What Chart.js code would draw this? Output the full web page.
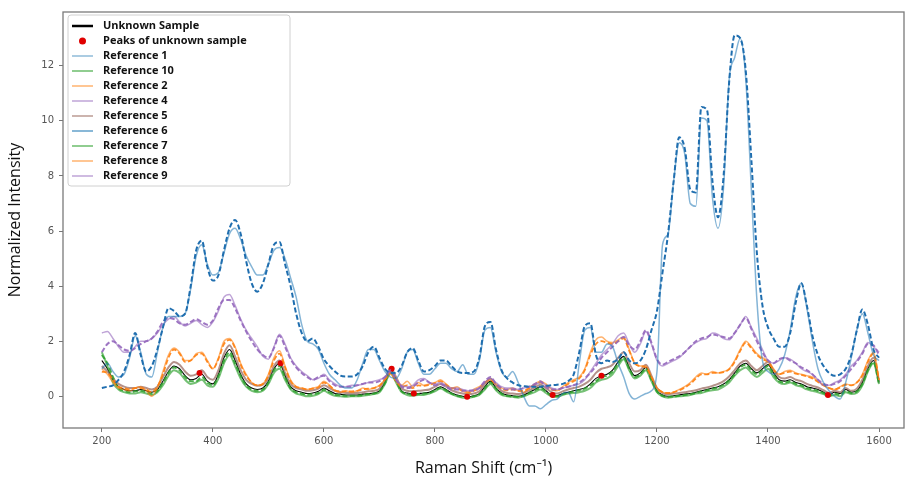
<!DOCTYPE html>
<html lang="en">
<head>
<meta charset="UTF-8">
<title>Raman spectra vs references</title>
<script src="https://cdn.jsdelivr.net/npm/chart.js"></script>
<style>
  html, body { margin: 0; padding: 0; background: #fff; }
  canvas { display: block; }
</style>
</head>
<body>
<canvas id="spectra" width="908" height="483"></canvas>
<script>
// Raman shift grid (cm-1)
const ramanShift = [
  200, 210, 220, 230, 240, 250, 260, 270, 280, 290,
  300, 310, 320, 330, 340, 350, 360, 370, 380, 390,
  400, 410, 420, 430, 440, 450, 460, 470, 480, 490,
  500, 510, 520, 530, 540, 550, 560, 570, 580, 590,
  600, 610, 620, 630, 640, 650, 660, 670, 680, 690,
  700, 710, 720, 730, 740, 750, 760, 770, 780, 790,
  800, 810, 820, 830, 840, 850, 860, 870, 880, 890,
  900, 910, 920, 930, 940, 950, 960, 970, 980, 990,
  1000, 1010, 1020, 1030, 1040, 1050, 1060, 1070, 1080, 1090,
  1100, 1110, 1120, 1130, 1140, 1150, 1160, 1170, 1180, 1190,
  1200, 1210, 1220, 1230, 1240, 1250, 1260, 1270, 1280, 1290,
  1300, 1310, 1320, 1330, 1340, 1350, 1360, 1370, 1380, 1390,
  1400, 1410, 1420, 1430, 1440, 1450, 1460, 1470, 1480, 1490,
  1500, 1510, 1520, 1530, 1540, 1550, 1560, 1570, 1580, 1590,
  1600
];

const unknownSample = [
  1.3, 1.0, 0.6, 0.35, 0.25, 0.2, 0.2, 0.25, 0.2, 0.15,
  0.25, 0.55, 0.9, 1.1, 1.0, 0.75, 0.6, 0.65, 0.8, 0.55,
  0.45, 0.8, 1.4, 1.7, 1.3, 0.8, 0.45, 0.3, 0.25, 0.3,
  0.55, 1.0, 1.2, 0.75, 0.35, 0.2, 0.15, 0.1, 0.12, 0.18,
  0.3, 0.2, 0.1, 0.08, 0.05, 0.05, 0.05, 0.08, 0.1, 0.12,
  0.2, 0.5, 0.95, 0.6, 0.2, 0.12, 0.08, 0.1, 0.12, 0.15,
  0.25, 0.35, 0.25, 0.12, 0.05, 0.0, -0.02, 0.02, 0.1, 0.35,
  0.55, 0.3, 0.12, 0.05, 0.02, 0.0, 0.05, 0.15, 0.25, 0.35,
  0.2, 0.05, 0.02, 0.1, 0.15, 0.2, 0.25, 0.3, 0.45, 0.65,
  0.75, 0.8, 0.95, 1.25, 1.45, 1.05, 0.75, 0.85, 1.05, 0.65,
  0.2, 0.05, 0.0, 0.02, 0.05, 0.08, 0.1, 0.15, 0.2, 0.25,
  0.3, 0.35, 0.45, 0.6, 0.85, 1.1, 1.2, 1.0, 0.85, 1.0,
  1.15, 0.85, 0.6, 0.55, 0.6, 0.5, 0.45, 0.35, 0.3, 0.25,
  0.15, 0.05, 0.15, 0.1, 0.25, 0.15, 0.2, 0.5, 1.0, 1.3,
  0.5
];

// detected peaks of the unknown sample
const peakShift = [376, 522, 722, 762, 858, 1012, 1100, 1508];
const peakIntensity = [0.85, 1.2, 1.0, 0.1, -0.02, 0.05, 0.75, 0.05];

const reference1 = [
  1.0, 1.2, 0.9, 0.7, 0.8, 1.4, 2.2, 1.6, 0.8, 0.7,
  1.6, 2.5, 2.9, 2.9, 2.9, 3.0, 3.9, 5.1, 5.5, 4.8,
  4.4, 4.5, 5.2, 5.9, 6.1, 5.7, 5.1, 4.7, 4.4, 4.4,
  4.8, 5.3, 5.4, 5.0, 4.3, 3.6, 2.6, 2.0, 1.9, 1.7,
  1.2, 0.8, 0.6, 0.4, 0.3, 0.3, 0.6, 1.2, 1.7, 1.7,
  1.3, 0.9, 0.7, 0.65, 1.0, 1.6, 1.7, 1.2, 0.8, 0.8,
  1.0, 1.2, 1.2, 1.0, 0.9, 1.15, 0.8, 0.8, 1.3, 2.4,
  2.5, 1.6, 0.9, 0.7, 0.9, 0.5, 0.0, -0.35, -0.35, -0.45,
  -0.3, -0.15, -0.1, 0.1, 0.15, -0.2, 1.2, 2.4, 2.5, 1.6,
  1.6, 1.9, 1.8, 1.2, 0.7, 0.1, -0.1, 0.0, 0.1, 0.2,
  0.9, 5.5, 5.9, 7.8, 9.2, 8.8, 7.0, 6.9, 10.1, 10.0,
  7.2, 6.1, 7.6, 11.5, 12.3, 13.0, 11.5, 7.5, 3.5, 1.3,
  0.9, 0.8, 1.0, 1.5, 2.4, 3.6, 4.1, 3.2, 2.0, 1.0,
  0.5, 0.2, 0.0, -0.1, 0.5, 1.4, 2.4, 3.0, 2.3, 1.5,
  1.3
];

const reference6 = [
  0.3, 0.35, 0.4, 0.6, 0.9, 1.5, 2.3, 1.5, 0.9, 1.1,
  1.7, 2.5, 3.2, 3.1, 2.9, 3.0, 4.0, 5.3, 5.65, 4.7,
  4.2, 4.4, 5.3, 6.1, 6.4, 5.9, 4.9, 4.1, 3.8, 4.1,
  4.8, 5.5, 5.6, 4.8, 4.0, 3.0, 2.3, 2.0, 2.1, 1.8,
  1.35, 1.1, 0.9, 0.75, 0.72, 0.72, 0.8, 1.1, 1.6, 1.8,
  1.4, 1.0, 0.85, 0.85, 1.1, 1.6, 1.75, 1.3, 0.9, 0.95,
  1.1, 1.3, 1.3, 1.1, 0.9, 0.85, 0.85, 0.9, 1.4, 2.55,
  2.7, 1.7, 0.95, 0.65, 0.5, 0.4, 0.37, 0.35, 0.35, 0.35,
  0.38, 0.4, 0.42, 0.45, 0.55, 0.8, 1.6, 2.55, 2.65, 1.5,
  1.2, 1.3, 1.25, 1.35, 1.6, 1.3, 1.2, 1.3, 1.7, 2.4,
  3.1, 4.5, 5.9, 7.8, 9.4, 9.0, 7.5, 7.4, 10.5, 10.4,
  7.8, 6.5, 8.0, 11.4, 13.1, 13.0, 11.8, 8.6, 5.2, 3.3,
  2.5, 2.1, 1.8, 1.8, 2.3, 3.4, 4.1, 3.3, 2.2, 1.5,
  1.1, 0.85, 0.75, 0.8, 1.0, 1.5, 2.4, 3.15, 2.6, 1.7,
  1.4
];

const reference9 = [
  2.3, 2.35, 2.1, 1.8, 1.6, 1.6, 1.8, 2.0, 2.0, 2.1,
  2.3, 2.6, 2.8, 2.9, 2.7, 2.55, 2.65, 2.75, 2.6, 2.5,
  2.7, 3.1, 3.6, 3.7, 3.3, 2.8, 2.4, 2.1, 1.8, 1.45,
  1.35, 1.8, 2.25, 1.9, 1.4, 1.1, 0.9, 0.75, 0.6, 0.65,
  0.8, 0.6, 0.45, 0.35, 0.35, 0.4, 0.4, 0.45, 0.5, 0.55,
  0.6, 0.7, 0.9, 0.6, 0.4, 0.35, 0.4, 0.6, 0.65, 0.5,
  0.45, 0.5, 0.4, 0.3, 0.3, 0.25, 0.2, 0.25, 0.3, 0.5,
  0.65, 0.5, 0.35, 0.3, 0.3, 0.25, 0.3, 0.35, 0.4, 0.5,
  0.4, 0.3, 0.25, 0.3, 0.35, 0.4, 0.45, 0.6, 0.9, 1.2,
  1.5, 1.7, 1.9, 2.2, 2.3, 1.9, 1.6, 1.9, 2.35, 1.9,
  1.3, 1.1, 1.2, 1.3, 1.4, 1.6, 1.8, 1.95, 2.05, 2.1,
  2.3, 2.25, 2.1, 2.05, 2.3, 2.6, 2.9, 2.5, 2.1, 1.7,
  1.3, 1.2, 1.3, 1.4, 1.35, 1.2, 1.0, 0.9, 0.8, 0.6,
  0.4, 0.4, 0.5, 0.6, 0.8, 1.1, 1.3, 1.6, 1.95, 1.8,
  1.6
];

const reference4 = [
  1.6, 1.9, 2.0, 1.85, 1.7, 1.65, 1.75, 1.9, 2.0, 2.1,
  2.35, 2.7, 2.85, 2.8, 2.65, 2.6, 2.7, 2.8, 2.7, 2.6,
  2.75, 3.2, 3.5, 3.5, 3.2, 2.75, 2.35, 2.0, 1.7, 1.5,
  1.4, 1.75, 2.2, 1.8, 1.35, 1.05, 0.85, 0.7, 0.6, 0.7,
  0.75, 0.55, 0.4, 0.35, 0.35, 0.35, 0.4, 0.45, 0.5, 0.5,
  0.55, 0.7, 0.95, 0.6, 0.35, 0.3, 0.35, 0.5, 0.6, 0.5,
  0.4, 0.45, 0.35, 0.25, 0.25, 0.2, 0.2, 0.2, 0.3, 0.55,
  0.7, 0.45, 0.3, 0.25, 0.25, 0.25, 0.3, 0.35, 0.45, 0.55,
  0.35, 0.25, 0.25, 0.3, 0.35, 0.4, 0.5, 0.65, 0.85, 1.1,
  1.4, 1.6, 1.8, 2.0, 2.15, 1.85, 1.7, 2.0, 2.4, 1.95,
  1.35, 1.15, 1.25, 1.35, 1.45, 1.6, 1.8, 2.0, 2.1, 2.15,
  2.25, 2.2, 2.15, 2.1, 2.3, 2.6, 2.85, 2.45, 2.0, 1.6,
  1.3, 1.2, 1.35, 1.4, 1.3, 1.2, 1.05, 0.95, 0.8, 0.6,
  0.45, 0.4, 0.45, 0.55, 0.75, 1.0, 1.25, 1.55, 1.9, 1.85,
  1.5
];

const reference2 = [
  1.0, 0.8, 0.5, 0.3, 0.25, 0.2, 0.3, 0.35, 0.2, 0.0,
  0.3, 0.9, 1.5, 1.75, 1.6, 1.3, 1.3, 1.55, 1.6, 1.3,
  1.0, 1.4, 2.0, 2.1, 1.8, 1.2, 0.8, 0.5, 0.4, 0.45,
  0.8, 1.4, 1.65, 1.1, 0.6, 0.35, 0.3, 0.25, 0.3, 0.35,
  0.55, 0.4, 0.2, 0.15, 0.2, 0.15, 0.2, 0.3, 0.25, 0.3,
  0.4, 0.6, 0.8, 0.55, 0.4, 0.55, 0.35, 0.5, 0.4, 0.45,
  0.5, 0.6, 0.45, 0.3, 0.35, 0.2, 0.1, 0.25, 0.35, 0.5,
  0.6, 0.45, 0.3, 0.25, 0.3, 0.2, 0.15, 0.3, 0.45, 0.55,
  0.45, 0.25, 0.2, 0.35, 0.5, 0.6, 0.7, 1.0, 1.6, 2.05,
  2.15, 2.0, 1.95, 2.05, 2.15, 1.7, 1.2, 1.1, 1.1, 0.7,
  0.3, 0.15, 0.1, 0.15, 0.25, 0.35, 0.5, 0.7, 0.85, 0.8,
  0.9, 0.85, 0.9, 1.0, 1.3, 1.7, 2.0, 1.8, 1.55, 1.4,
  1.3, 1.0, 0.8, 0.9, 0.95, 0.85, 0.8, 0.75, 0.7, 0.55,
  0.4, 0.3, 0.25, 0.35, 0.45, 0.4, 0.5, 0.8, 1.3, 1.6,
  0.6
];

const reference8 = [
  0.9, 0.85, 0.6, 0.35, 0.3, 0.25, 0.3, 0.3, 0.25, 0.15,
  0.35, 0.8, 1.4, 1.7, 1.55, 1.25, 1.3, 1.5, 1.55, 1.25,
  1.0, 1.35, 1.9, 2.05, 1.75, 1.15, 0.75, 0.5, 0.4, 0.45,
  0.75, 1.3, 1.55, 1.05, 0.55, 0.35, 0.3, 0.25, 0.28, 0.32,
  0.5, 0.38, 0.22, 0.18, 0.18, 0.18, 0.2, 0.25, 0.28, 0.3,
  0.38, 0.62, 0.85, 0.55, 0.35, 0.4, 0.3, 0.4, 0.38, 0.42,
  0.48, 0.55, 0.42, 0.3, 0.28, 0.2, 0.15, 0.2, 0.3, 0.5,
  0.6, 0.42, 0.28, 0.22, 0.25, 0.2, 0.2, 0.3, 0.42, 0.5,
  0.4, 0.25, 0.22, 0.32, 0.45, 0.55, 0.65, 0.95, 1.5, 1.9,
  2.0, 1.95, 1.9, 2.0, 2.1, 1.65, 1.2, 1.1, 1.05, 0.7,
  0.3, 0.15, 0.12, 0.15, 0.22, 0.32, 0.45, 0.65, 0.8, 0.8,
  0.85, 0.85, 0.88, 0.98, 1.25, 1.65, 1.95, 1.75, 1.5, 1.35,
  1.25, 0.95, 0.8, 0.85, 0.9, 0.82, 0.78, 0.72, 0.65, 0.52,
  0.4, 0.3, 0.25, 0.32, 0.42, 0.4, 0.5, 0.75, 1.25, 1.55,
  0.6
];

const reference10 = [
  1.6, 1.1, 0.5, 0.25, 0.15, 0.1, 0.1, 0.15, 0.1, 0.05,
  0.15, 0.4, 0.75, 0.95, 0.85, 0.6, 0.45, 0.5, 0.6, 0.4,
  0.35, 0.65, 1.2, 1.5, 1.1, 0.65, 0.35, 0.2, 0.15, 0.2,
  0.45, 0.85, 1.0, 0.6, 0.25, 0.1, 0.05, 0.0, 0.02, 0.08,
  0.2, 0.1, 0.02, 0.0, -0.02, 0.0, 0.0, 0.02, 0.05, 0.08,
  0.15, 0.45, 0.85, 0.5, 0.15, 0.05, 0.02, 0.05, 0.05, 0.1,
  0.18, 0.28, 0.18, 0.08, 0.0, -0.05, -0.05, -0.02, 0.05, 0.25,
  0.45, 0.22, 0.05, 0.0, -0.02, -0.05, 0.0, 0.08, 0.15, 0.25,
  0.12, 0.0, -0.02, 0.05, 0.1, 0.12, 0.15, 0.2, 0.3, 0.5,
  0.6, 0.65, 0.8, 1.1, 1.35, 0.95, 0.65, 0.75, 0.95, 0.55,
  0.15, 0.0, -0.05, -0.02, 0.0, 0.02, 0.05, 0.1, 0.12, 0.18,
  0.22, 0.25, 0.35, 0.5, 0.75, 0.95, 1.05, 0.85, 0.7, 0.85,
  1.0, 0.7, 0.5, 0.45, 0.5, 0.4, 0.35, 0.25, 0.2, 0.15,
  0.08, 0.0, 0.05, 0.0, 0.15, 0.08, 0.12, 0.4, 0.9, 1.2,
  0.45
];

const reference5 = [
  1.1, 0.9, 0.65, 0.45, 0.35, 0.3, 0.3, 0.35, 0.3, 0.25,
  0.35, 0.7, 1.05, 1.25, 1.15, 0.9, 0.75, 0.8, 0.95, 0.7,
  0.6, 0.95, 1.55, 1.85, 1.45, 0.95, 0.6, 0.45, 0.38, 0.42,
  0.65, 1.1, 1.3, 0.85, 0.45, 0.3, 0.25, 0.2, 0.22, 0.28,
  0.4, 0.3, 0.2, 0.15, 0.12, 0.12, 0.12, 0.15, 0.18, 0.2,
  0.28, 0.6, 1.05, 0.7, 0.3, 0.2, 0.18, 0.2, 0.22, 0.25,
  0.35, 0.45, 0.35, 0.22, 0.15, 0.1, 0.08, 0.1, 0.18, 0.45,
  0.65, 0.4, 0.2, 0.12, 0.1, 0.08, 0.12, 0.22, 0.32, 0.42,
  0.3, 0.15, 0.1, 0.18, 0.25, 0.3, 0.35, 0.45, 0.6, 0.85,
  1.0, 1.05, 1.15, 1.4, 1.6, 1.2, 0.9, 0.95, 1.15, 0.75,
  0.3, 0.12, 0.08, 0.1, 0.12, 0.15, 0.18, 0.22, 0.28, 0.32,
  0.38, 0.45, 0.55, 0.72, 0.95, 1.2, 1.3, 1.1, 0.95, 1.1,
  1.25, 0.95, 0.7, 0.65, 0.7, 0.6, 0.55, 0.45, 0.38, 0.32,
  0.22, 0.12, 0.2, 0.15, 0.3, 0.2, 0.28, 0.6, 1.1, 1.4,
  0.55
];

const reference7 = [
  1.5, 1.2, 0.7, 0.3, 0.2, 0.15, 0.18, 0.2, 0.15, 0.1,
  0.2, 0.5, 0.85, 1.05, 0.95, 0.7, 0.55, 0.55, 0.7, 0.5,
  0.4, 0.75, 1.3, 1.6, 1.2, 0.75, 0.4, 0.25, 0.2, 0.25,
  0.5, 0.95, 1.1, 0.7, 0.3, 0.15, 0.1, 0.06, 0.08, 0.12,
  0.25, 0.15, 0.06, 0.04, 0.02, 0.02, 0.02, 0.05, 0.08, 0.1,
  0.18, 0.48, 0.9, 0.55, 0.18, 0.1, 0.05, 0.08, 0.1, 0.12,
  0.22, 0.3, 0.22, 0.1, 0.02, -0.02, -0.04, 0.0, 0.08, 0.3,
  0.5, 0.28, 0.1, 0.02, 0.0, -0.02, 0.02, 0.12, 0.22, 0.3,
  0.18, 0.02, 0.0, 0.08, 0.12, 0.18, 0.22, 0.28, 0.4, 0.55,
  0.7, 0.75, 0.9, 1.2, 1.4, 1.0, 0.7, 0.8, 1.0, 0.6,
  0.18, 0.02, -0.02, 0.0, 0.02, 0.05, 0.08, 0.12, 0.18, 0.22,
  0.28, 0.32, 0.42, 0.58, 0.8, 1.05, 1.15, 0.95, 0.8, 0.95,
  1.1, 0.8, 0.55, 0.5, 0.55, 0.45, 0.4, 0.3, 0.25, 0.2,
  0.12, 0.02, 0.1, 0.05, 0.2, 0.12, 0.18, 0.45, 0.95, 1.25,
  0.45
];

const toPoints = (xs, ys) => xs.map((x, i) => ({ x: x, y: ys[i] }));

// name, values, colour, width, dash, draw order (lower = on top)
const lineSeries = [
  ['Unknown Sample', unknownSample, '#000000', 1.1, [], 10],
  ['Reference 1', reference1, 'rgba(31,119,180,0.55)', 1.5, [], 1],
  ['Reference 10', reference10, 'rgba(44,160,44,0.65)', 2, [], 9],
  ['Reference 2', reference2, 'rgba(255,127,14,0.6)', 1.5, [], 5],
  ['Reference 4', reference4, 'rgba(148,103,189,0.9)', 2, [5, 2.5], 2],
  ['Reference 5', reference5, 'rgba(140,86,75,0.65)', 2, [], 8],
  ['Reference 6', reference6, 'rgba(31,110,175,1)', 2, [5, 2.5], 0],
  ['Reference 7', reference7, 'rgba(44,160,44,0.85)', 2, [5, 2.5], 7],
  ['Reference 8', reference8, 'rgba(255,127,14,0.9)', 1.8, [5, 2.5], 4],
  ['Reference 9', reference9, 'rgba(148,103,189,0.6)', 1.5, [], 3]
];

const legendColors = {
  'Reference 1': 'rgba(31,119,180,0.5)',
  'Reference 10': 'rgba(44,160,44,0.7)',
  'Reference 2': 'rgba(255,127,14,0.6)',
  'Reference 4': 'rgba(148,103,189,0.6)',
  'Reference 5': 'rgba(140,86,75,0.6)',
  'Reference 6': 'rgba(31,119,180,0.7)',
  'Reference 7': 'rgba(44,160,44,0.7)',
  'Reference 8': 'rgba(255,127,14,0.6)',
  'Reference 9': 'rgba(148,103,189,0.6)'
};

const datasets = lineSeries.map(s => ({
  type: 'line',
  label: s[0],
  data: toPoints(ramanShift, s[1]),
  borderColor: s[2],
  borderWidth: s[3],
  borderDash: s[4],
  order: s[5],
  pointRadius: 0,
  fill: false,
  cubicInterpolationMode: 'monotone'
}));

datasets.push({
  type: 'scatter',
  label: 'Peaks of unknown sample',
  data: toPoints(peakShift, peakIntensity),
  backgroundColor: '#e00000',
  borderWidth: 0,
  pointRadius: 3,
  order: 6
});

// matplotlib-like box around the axes
const framePlugin = {
  id: 'frame',
  afterDatasetsDraw(chart) {
    const { ctx, chartArea: a } = chart;
    ctx.save();
    ctx.strokeStyle = '#7a7a7a';
    ctx.lineWidth = 1.3;
    ctx.strokeRect(a.left, a.top, a.right - a.left, a.bottom - a.top);
    ctx.restore();
  }
};

// legend in the upper left corner of the axes
const legendOrder = ['Unknown Sample', 'Peaks of unknown sample', 'Reference 1', 'Reference 10',
  'Reference 2', 'Reference 4', 'Reference 5', 'Reference 6', 'Reference 7', 'Reference 8', 'Reference 9'];

const legendPlugin = {
  id: 'boxLegend',
  afterDraw(chart) {
    const ctx = chart.ctx;
    const x0 = 68, y0 = 15, w = 222, h = 171, r = 3;
    ctx.save();
    ctx.beginPath();
    ctx.moveTo(x0 + r, y0);
    ctx.lineTo(x0 + w - r, y0);
    ctx.arcTo(x0 + w, y0, x0 + w, y0 + r, r);
    ctx.lineTo(x0 + w, y0 + h - r);
    ctx.arcTo(x0 + w, y0 + h, x0 + w - r, y0 + h, r);
    ctx.lineTo(x0 + r, y0 + h);
    ctx.arcTo(x0, y0 + h, x0, y0 + h - r, r);
    ctx.lineTo(x0, y0 + r);
    ctx.arcTo(x0, y0, x0 + r, y0, r);
    ctx.closePath();
    ctx.fillStyle = 'rgba(255,255,255,0.85)';
    ctx.fill();
    ctx.strokeStyle = '#d0d0d0';
    ctx.lineWidth = 1;
    ctx.stroke();

    ctx.font = 'bold 11px "Open Sans", "DejaVu Sans", sans-serif';
    ctx.textBaseline = 'middle';
    legendOrder.forEach((name, i) => {
      const y = 26 + i * 15;
      if (name === 'Peaks of unknown sample') {
        ctx.fillStyle = '#e00000';
        ctx.beginPath();
        ctx.arc(82.5, y, 3.5, 0, Math.PI * 2);
        ctx.fill();
      } else {
        ctx.strokeStyle = name === 'Unknown Sample' ? '#000' : legendColors[name];
        ctx.lineWidth = name === 'Unknown Sample' ? 2.5 : 1.5;
        ctx.beginPath();
        ctx.moveTo(72, y);
        ctx.lineTo(93, y);
        ctx.stroke();
      }
      ctx.fillStyle = '#111';
      ctx.fillText(name, 103, y);
    });
    ctx.restore();
  }
};

const tickFont = { family: '"DejaVu Sans", sans-serif', size: 10 };
const titleFont = { family: '"Open Sans", "Noto Sans", sans-serif', size: 16 };

new Chart(document.getElementById('spectra').getContext('2d'), {
  data: { datasets: datasets },
  options: {
    responsive: false,
    devicePixelRatio: 1,
    animation: false,
    events: [],
    layout: { padding: { top: 12, right: 3, left: 0, bottom: 0 } },
    plugins: {
      legend: { display: false },
      tooltip: { enabled: false }
    },
    scales: {
      x: {
        type: 'linear',
        min: 130,
        max: 1645,
        ticks: {
          stepSize: 200, includeBounds: false, color: '#555', font: tickFont, padding: 3,
          callback: value => String(value)
        },
        grid: { drawOnChartArea: false, drawTicks: true, tickLength: 4, color: '#777' },
        border: { display: false },
        title: { display: true, text: 'Raman Shift (cm⁻¹)', color: '#111', font: titleFont, padding: { top: 0, bottom: 5 } },
        afterFit: scale => { scale.height = 55; }
      },
      y: {
        type: 'linear',
        min: -1.15,
        max: 13.95,
        ticks: {
          stepSize: 2, includeBounds: false, color: '#555', font: tickFont, padding: 5,
          callback: value => String(value)
        },
        grid: { drawOnChartArea: false, drawTicks: true, tickLength: 4, color: '#777' },
        border: { display: false },
        title: { display: true, text: 'Normalized Intensity', color: '#111', font: titleFont, padding: { top: 6, bottom: 0 } },
        afterFit: scale => { scale.width = 63; }
      }
    }
  },
  plugins: [framePlugin, legendPlugin]
});
</script>
</body>
</html>
